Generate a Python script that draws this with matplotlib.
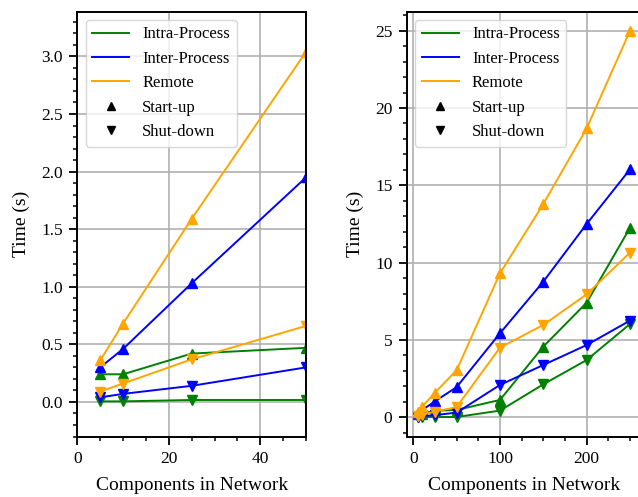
import matplotlib
matplotlib.use("Agg")
import matplotlib.pyplot as plt
from matplotlib.lines import Line2D
from matplotlib.ticker import AutoMinorLocator

plt.rcParams['font.family'] = ['Liberation Serif', 'DejaVu Serif']

components = [5, 10, 25, 50, 100, 150, 200, 250]
intra_start = [0.24, 0.24, 0.42, 0.47, 1.12, 4.57, 7.41, 12.25]
intra_stop = [0.005, 0.005, 0.017, 0.017, 0.43, 2.13, 3.70, 6.03]
inter_start = [0.30, 0.46, 1.03, 1.95, 5.43, 8.77, 12.5, 16.03]
inter_stop = [0.04, 0.07, 0.14, 0.30, 2.09, 3.38, 4.67, 6.25]
remote_start = [0.36, 0.68, 1.59, 3.04, 9.31, 13.79, 18.68, 24.99]
remote_stop = [0.09, 0.16, 0.37, 0.66, 4.50, 5.97, 7.95, 10.65]

series = [
    ("Intra-Process", "green", intra_start, intra_stop),
    ("Inter-Process", "blue", inter_start, inter_stop),
    ("Remote", "orange", remote_start, remote_stop),
]

W, H = 638, 497
fig = plt.figure(figsize=(W / 100, H / 100), dpi=100)
ax1 = fig.add_axes([77.3 / W, 1 - 436.5 / H, (306 - 77.3) / W, (436.5 - 11.5) / H])
ax2 = fig.add_axes([407 / W, 1 - 436.5 / H, (640.6 - 407) / W, (436.5 - 11.5) / H])

for ax in (ax1, ax2):
    for name, color, start, stop in series:
        ax.plot(components, start, color=color, marker='^', markersize=6.5, linewidth=1.4)
        ax.plot(components, stop, color=color, marker='v', markersize=6.5, linewidth=1.4)
    ax.grid(True, which='major', color='#b0b0b0', linewidth=1.2)
    ax.set_axisbelow(True)
    ax.xaxis.set_minor_locator(AutoMinorLocator(4))
    ax.yaxis.set_minor_locator(AutoMinorLocator(5))
    ax.tick_params(which='major', length=6, width=1.3, labelsize=12.5, pad=4.5)
    ax.tick_params(which='minor', length=3.2, width=1.1)
    for sp in ax.spines.values():
        sp.set_linewidth(1.4)
    ax.set_xlabel("Components in Network", fontsize=14, labelpad=7)
    ax.set_ylabel("Time (s)", fontsize=14, labelpad=8)
    handles = [Line2D([], [], color=c, linewidth=1.4) for _, c, _, _ in series]
    handles += [Line2D([], [], color='black', marker='^', linestyle='None', markersize=6),
                Line2D([], [], color='black', marker='v', linestyle='None', markersize=6)]
    labels = [n for n, _, _, _ in series] + ["Start-up", "Shut-down"]
    ax.legend(handles, labels, loc='upper left', fontsize=12, handlelength=2.2,
              labelspacing=0.5, borderaxespad=0.5)

ax1.set_xlim(0, 50)
ax1.set_ylim(-0.3, 3.39)
ax2.set_yticks([0, 5, 10, 15, 20, 25])

fig.savefig("out.png", dpi=100)
